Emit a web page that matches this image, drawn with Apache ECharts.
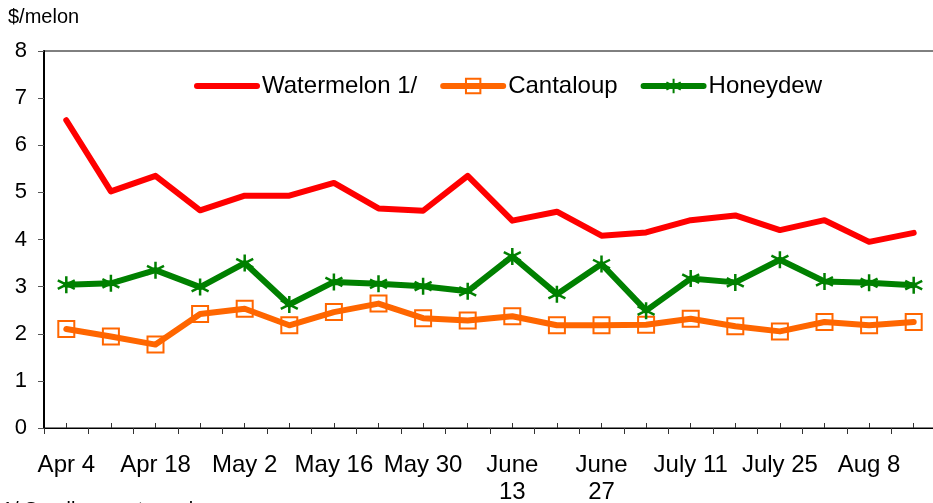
<!DOCTYPE html>
<html>
<head>
<meta charset="utf-8">
<script src="https://cdn.jsdelivr.net/npm/echarts@6/dist/echarts.min.js"></script>
<style>html,body{margin:0;padding:0;background:#fff;}#c{width:933px;height:503px;}</style>
</head>
<body>
<div id="c"></div>
<script>
const categories = ['Apr 4','Apr 11','Apr 18','Apr 25','May 2','May 9','May 16','May 23','May 30','June 6','June\n13','June 20','June\n27','July 4','July 11','July 18','July 25','Aug 1','Aug 8','Aug 15'];
const watermelon = [6.53,5.02,5.35,4.62,4.93,4.93,5.2,4.66,4.61,5.35,4.4,4.59,4.08,4.15,4.41,4.51,4.2,4.41,3.95,4.14];
const cantaloup  = [2.1,1.94,1.77,2.42,2.53,2.18,2.46,2.64,2.33,2.28,2.37,2.18,2.18,2.19,2.32,2.16,2.05,2.25,2.18,2.25];
const honeydew   = [3.04,3.07,3.35,2.99,3.5,2.62,3.1,3.06,3.01,2.9,3.64,2.84,3.48,2.49,3.17,3.09,3.57,3.11,3.08,3.03];
const yTicks = [0,1,2,3,4,5,6,7,8];
const seriesNames = ['Watermelon 1/','Cantaloup','Honeydew'];
const unitLabel = '$/melon';
const footnote = '1/ Seedless watermelon.';

const FONT = '"Liberation Sans", Arial, sans-serif';
const chart = echarts.init(document.getElementById('c'), null, {renderer: 'canvas'});
const asterisk = 'path://M8,0 L8,16 M1,4 L15,12 M1,12 L15,4';

chart.setOption({
  animation: false,
  backgroundColor: '#ffffff',
  textStyle: {fontFamily: FONT},
  grid: {left: 44, right: -3, top: 51, bottom: 75, show: true, borderColor: '#000', borderWidth: 1,
         backgroundColor: 'transparent', containLabel: false, outerBoundsMode: 'none'},
  legend: {
    data: [
      {name: seriesNames[0], itemStyle: {opacity: 0}, lineStyle: {width: 6, color: '#FF0000', cap: 'round'}},
      {name: seriesNames[1], lineStyle: {width: 6, color: '#FF6600', cap: 'round'}},
      {name: seriesNames[2], lineStyle: {width: 6, color: '#008000', cap: 'round'}}
    ],
    top: 69, left: 189,
    itemWidth: 60, itemHeight: 18, itemGap: 23,
    textStyle: {fontFamily: FONT, fontSize: 24, color: '#000'},
  },
  graphic: [
    {type: 'text', left: 8, top: 7, style: {text: unitLabel, font: '20px ' + FONT, fill: '#000'}},
    {type: 'text', left: 2, top: 500, style: {text: footnote, font: '20px ' + FONT, fill: '#000'}}
  ],
  xAxis: [{
    type: 'category', data: categories, boundaryGap: true,
    axisLine: {lineStyle: {color: '#000', width: 1}},
    axisTick: {show: true, alignWithLabel: false, interval: 0, length: 6, lineStyle: {color: '#333'}},
    axisLabel: {interval: 1, margin: 24, fontSize: 24, fontFamily: FONT, color: '#000', lineHeight: 27},
    splitLine: {show: false}
  }, {
    type: 'category', data: categories, boundaryGap: true, position: 'bottom',
    axisLine: {show: false},
    axisTick: {show: true, alignWithLabel: true, interval: 0, inside: true, length: 5, lineStyle: {color: '#333'}},
    axisLabel: {show: false},
    splitLine: {show: false}
  }],
  yAxis: {
    type: 'value', min: yTicks[0], max: yTicks[yTicks.length - 1], interval: 1,
    axisLine: {show: true, lineStyle: {color: '#000', width: 2}},
    axisTick: {show: true, length: 6, lineStyle: {color: '#555'}},
    axisLabel: {fontSize: 22, fontFamily: FONT, color: '#000', margin: 17},
    splitLine: {show: false}
  },
  series: [
    {name: seriesNames[0], type: 'line', data: watermelon, symbol: 'none',
     lineStyle: {color: '#FF0000', width: 6, cap: 'round', join: 'round'},
     itemStyle: {color: '#FF0000'}},
    {name: seriesNames[1], type: 'line', data: cantaloup, symbol: 'rect', symbolSize: 16, showAllSymbol: true,
     lineStyle: {color: '#FF6600', width: 6, cap: 'round', join: 'round'},
     itemStyle: {color: 'rgba(255,255,255,0)', borderColor: '#FF6600', borderWidth: 2}},
    {name: seriesNames[2], type: 'line', data: honeydew, symbol: asterisk, symbolSize: 17, showAllSymbol: true,
     lineStyle: {color: '#008000', width: 6, cap: 'round', join: 'round'},
     itemStyle: {color: '#008000', borderColor: '#008000', borderWidth: 2.5}}
  ]
});
</script>
</body>
</html>
